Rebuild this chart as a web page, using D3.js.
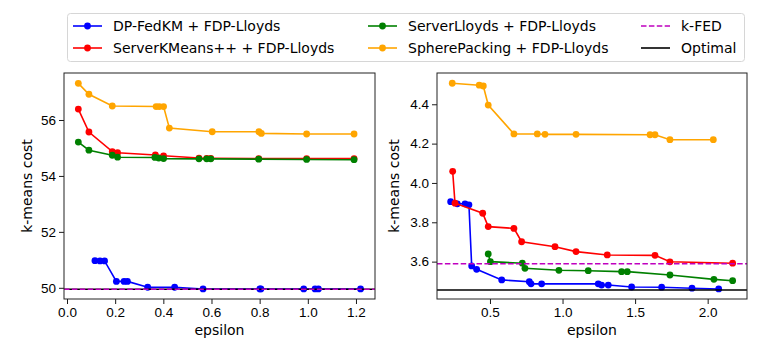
<!DOCTYPE html>
<html>
<head>
<meta charset="utf-8">
<script src="https://cdn.jsdelivr.net/npm/d3@7"></script>
<style>
body { margin: 0; background: #fff; }
svg { font-family: "DejaVu Sans", sans-serif; }
.tick text { font-size: 13.5px; fill: #000; }
.tick line { stroke: #000; stroke-width: 0.9px; }
.domain { display: none; }
.frame { fill: none; stroke: #222; stroke-width: 1px; }
.lab { font-size: 14px; fill: #000; }
</style>
</head>
<body>
<svg id="chart" width="782" height="343"></svg>
<script>
// left panel (dataset 1)
var leftBlueEps = [0.116, 0.137, 0.156, 0.205, 0.237, 0.251, 0.335, 0.447, 0.565, 0.801, 0.805, 0.983, 1.03, 1.044, 1.219];
var leftBlueCost = [50.97, 50.96, 50.96, 50.23, 50.23, 50.23, 50.02, 50.02, 49.96, 49.96, 49.96, 49.96, 49.96, 49.96, 49.96];
var leftRedEps = [0.047, 0.091, 0.188, 0.21, 0.367, 0.401, 0.548, 0.58, 0.597, 0.796, 0.995, 1.192];
var leftRedCost = [56.39, 55.57, 54.87, 54.83, 54.75, 54.72, 54.64, 54.63, 54.63, 54.62, 54.62, 54.62];
var leftGreenEps = [0.047, 0.091, 0.188, 0.21, 0.365, 0.381, 0.401, 0.548, 0.58, 0.597, 0.796, 0.995, 1.192];
var leftGreenCost = [55.21, 54.92, 54.74, 54.67, 54.66, 54.64, 54.62, 54.61, 54.61, 54.61, 54.6, 54.59, 54.58];
var leftOrangeEps = [0.047, 0.091, 0.188, 0.37, 0.383, 0.401, 0.425, 0.603, 0.797, 0.807, 0.995, 1.192];
var leftOrangeCost = [57.31, 56.92, 56.5, 56.48, 56.48, 56.48, 55.71, 55.58, 55.58, 55.52, 55.5, 55.5];
var leftKfed = 49.95;
var leftOptimal = 49.95;

// right panel (dataset 2)
var rightBlueEps = [0.229, 0.275, 0.328, 0.355, 0.374, 0.408, 0.581, 0.771, 0.783, 0.856, 1.246, 1.269, 1.315, 1.476, 1.683, 1.892, 2.076];
var rightBlueCost = [3.905, 3.894, 3.894, 3.889, 3.578, 3.561, 3.507, 3.498, 3.487, 3.487, 3.487, 3.481, 3.481, 3.471, 3.47, 3.465, 3.461];
var rightRedEps = [0.243, 0.259, 0.45, 0.488, 0.665, 0.718, 0.948, 1.093, 1.308, 1.637, 1.74, 2.172];
var rightRedCost = [4.059, 3.897, 3.846, 3.778, 3.769, 3.701, 3.676, 3.651, 3.634, 3.632, 3.599, 3.592];
var rightGreenEps = [0.488, 0.503, 0.723, 0.741, 0.975, 1.177, 1.407, 1.446, 1.74, 2.043, 2.172];
var rightGreenCost = [3.639, 3.6, 3.592, 3.566, 3.556, 3.554, 3.549, 3.549, 3.532, 3.51, 3.503];
var rightOrangeEps = [0.24, 0.426, 0.454, 0.488, 0.665, 0.826, 0.879, 1.093, 1.603, 1.637, 1.74, 2.039];
var rightOrangeCost = [4.507, 4.497, 4.493, 4.396, 4.249, 4.249, 4.247, 4.247, 4.245, 4.245, 4.22, 4.22];
var rightKfed = 3.589;
var rightOptimal = 3.456;

var seriesNames = ["DP-FedKM + FDP-Lloyds", "ServerKMeans++ + FDP-Lloyds", "ServerLloyds + FDP-Lloyds", "SpherePacking + FDP-Lloyds"];
var seriesColors = ["blue", "red", "green", "orange"];
var kfedColor = "#bf00bf";

var leftXTicks = [0, 0.2, 0.4, 0.6, 0.8, 1.0, 1.2];
var leftYTicks = [50, 52, 54, 56];
var rightXTicks = [0.5, 1.0, 1.5, 2.0];
var rightYTicks = [3.6, 3.8, 4.0, 4.2, 4.4];

var chart = d3.select("#chart");

function zip(xs, ys) {
    return xs.map(function(v, i) { return {x: v, y: ys[i]}; });
}

function drawPanel(p) {
    var x = d3.scaleLinear().domain(p.xDomain).range([p.left, p.right]);
    var y = d3.scaleLinear().domain(p.yDomain).range([p.bottom, p.top]);
    var g = chart.append("g");

    g.append("g")
        .attr("transform", "translate(0," + p.bottom + ")")
        .call(d3.axisBottom(x).tickValues(p.xTicks).tickFormat(d3.format(".1f")).tickSize(5).tickPadding(3));
    g.append("g")
        .attr("transform", "translate(" + p.left + ",0)")
        .call(d3.axisLeft(y).tickValues(p.yTicks).tickFormat(p.yFormat).tickSize(5).tickPadding(3));

    var clip = g.append("clipPath").attr("id", "clip" + p.id);
    clip.append("rect").attr("x", p.left).attr("y", p.top)
        .attr("width", p.right - p.left).attr("height", p.bottom - p.top);
    var plot = g.append("g").attr("clip-path", "url(#clip" + p.id + ")");

    var line = d3.line().x(function(d) { return x(d.x); }).y(function(d) { return y(d.y); });

    p.series.forEach(function(s, i) {
        var data = zip(s[0], s[1]);
        plot.append("path").datum(data)
            .attr("d", line)
            .attr("fill", "none")
            .attr("stroke", seriesColors[i])
            .attr("stroke-width", 1.6);
        plot.selectAll(null).data(data).enter().append("circle")
            .attr("cx", function(d) { return x(d.x); })
            .attr("cy", function(d) { return y(d.y); })
            .attr("r", 3.4)
            .attr("fill", seriesColors[i]);
    });

    // reference lines across the whole axis
    plot.append("line")
        .attr("x1", p.left).attr("x2", p.right)
        .attr("y1", y(p.optimal)).attr("y2", y(p.optimal))
        .attr("stroke", "#000").attr("stroke-width", 1.6);
    plot.append("line")
        .attr("x1", p.left).attr("x2", p.right)
        .attr("y1", y(p.kfed)).attr("y2", y(p.kfed))
        .attr("stroke", kfedColor).attr("stroke-width", 1.6)
        .attr("stroke-dasharray", "5.5,2.4");

    g.append("rect").attr("class", "frame")
        .attr("x", p.left).attr("y", p.top)
        .attr("width", p.right - p.left).attr("height", p.bottom - p.top);

    g.append("text").attr("class", "lab")
        .attr("x", (p.left + p.right) / 2).attr("y", 335)
        .attr("text-anchor", "middle")
        .text("epsilon");
    g.append("text").attr("class", "lab")
        .attr("transform", "translate(" + p.yLabelX + "," + ((p.top + p.bottom) / 2) + ") rotate(-90)")
        .attr("text-anchor", "middle")
        .text("k-means cost");
}

drawPanel({
    id: "L", left: 64, right: 375, top: 73, bottom: 299,
    xDomain: [-0.0125, 1.279], yDomain: [49.6, 57.68],
    xTicks: leftXTicks, yTicks: leftYTicks, yFormat: d3.format("d"),
    series: [[leftBlueEps, leftBlueCost], [leftRedEps, leftRedCost], [leftGreenEps, leftGreenCost], [leftOrangeEps, leftOrangeCost]],
    kfed: leftKfed, optimal: leftOptimal, yLabelX: 32
});

drawPanel({
    id: "R", left: 437, right: 747, top: 73, bottom: 299,
    xDomain: [0.135, 2.271], yDomain: [3.41, 4.559],
    xTicks: rightXTicks, yTicks: rightYTicks, yFormat: d3.format(".1f"),
    series: [[rightBlueEps, rightBlueCost], [rightRedEps, rightRedCost], [rightGreenEps, rightGreenCost], [rightOrangeEps, rightOrangeCost]],
    kfed: rightKfed, optimal: rightOptimal, yLabelX: 399
});

// legend, three columns
var legend = chart.append("g");
legend.append("rect")
    .attr("x", 67.5).attr("y", 13.5).attr("width", 677).attr("height", 48)
    .attr("rx", 3)
    .attr("fill", "#fff").attr("stroke", "#d6d6d6").attr("stroke-width", 1);

var entries = [
    {name: seriesNames[0], color: seriesColors[0], col: 0, row: 0, type: "marker"},
    {name: seriesNames[1], color: seriesColors[1], col: 0, row: 1, type: "marker"},
    {name: seriesNames[2], color: seriesColors[2], col: 1, row: 0, type: "marker"},
    {name: seriesNames[3], color: seriesColors[3], col: 1, row: 1, type: "marker"},
    {name: "k-FED", color: kfedColor, col: 2, row: 0, type: "dash"},
    {name: "Optimal", color: "#000", col: 2, row: 1, type: "solid"}
];
var colX = [73, 368, 641];
var rowY = [26, 48];

entries.forEach(function(e) {
    var x0 = colX[e.col], yy = rowY[e.row];
    legend.append("line")
        .attr("x1", x0).attr("x2", x0 + 29).attr("y1", yy).attr("y2", yy)
        .attr("stroke", e.color).attr("stroke-width", 1.6)
        .attr("stroke-dasharray", e.type == "dash" ? "5.5,2.4" : null);
    if (e.type == "marker") {
        legend.append("circle").attr("cx", x0 + 14.5).attr("cy", yy).attr("r", 3.4).attr("fill", e.color);
    }
    legend.append("text").attr("class", "lab")
        .attr("x", x0 + 40).attr("y", yy).attr("dy", "0.35em")
        .text(e.name);
});
</script>
</body>
</html>
